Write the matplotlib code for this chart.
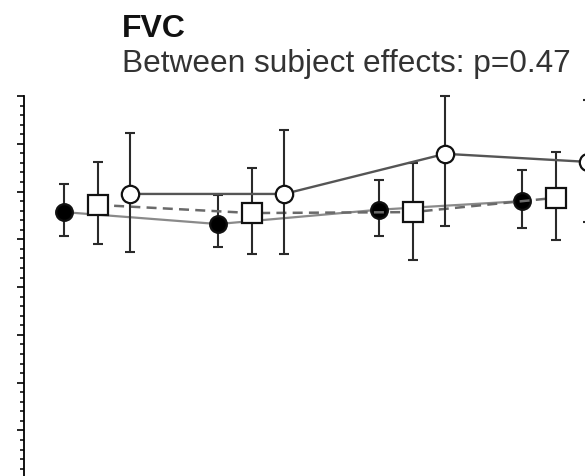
import numpy as np
import matplotlib
matplotlib.use("Agg")
import matplotlib.pyplot as plt
from matplotlib.ticker import MultipleLocator

plt.rcParams['font.family'] = ['Liberation Sans', 'DejaVu Sans']

# ---------------------------------------------------------------------------
# Data (y units arbitrary, tick labels are cropped)
# ---------------------------------------------------------------------------
visits = [0.0, 1.0, 2.045, 2.975]          # visit positions
offsets = [0.0, 0.22, 0.43]                 # horizontal dodge per group

filled_mean = [105.7, 103.2, 106.2, 108.0]
filled_lo   = [100.7, 98.4, 100.7, 102.4]
filled_hi   = [111.6, 109.3, 112.4, 114.5]

square_mean = [107.2, 105.5, 105.7, 108.7]
square_lo   = [99.0, 97.0, 95.7, 99.9]
square_hi   = [116.2, 114.9, 116.0, 118.3]

open_mean = [109.5, 109.5, 117.9, 116.2]
open_lo   = [97.4, 97.0, 102.8, 103.6]
open_hi   = [122.3, 122.9, 130.0, 129.2]

title = "FVC"
subtitle = "Between subject effects: p=0.47"

# ---------------------------------------------------------------------------
# Figure: axes deliberately larger than the canvas (crop of a bigger chart)
# ---------------------------------------------------------------------------
W, H = 585, 476
fig = plt.figure(figsize=(W / 100, H / 100), dpi=100)
fig.patch.set_facecolor("white")

px_per_unit_x = 154.0
x0_px = 64.0
left_px, right_px = 24.0, 720.0
top_px, bottom_px = 96.0, 526.0
ax = fig.add_axes([left_px / W, 1 - bottom_px / H,
                   (right_px - left_px) / W, (bottom_px - top_px) / H])
ax.set_xlim((left_px - x0_px) / px_per_unit_x, (right_px - x0_px) / px_per_unit_x)
ax.set_ylim(40, 130)


def draw(xs, mean, lo, hi, marker, face, ms, line_color, ls, lw, z):
    mean = np.array(mean)
    err = [mean - np.array(lo), np.array(hi) - mean]
    ax.plot(xs, mean, color=line_color, ls=ls, lw=lw, zorder=z,
            dashes=(4, 2.5) if ls == "--" else (None, None))
    ax.errorbar(xs, mean, yerr=err, fmt="none", ecolor="#2a2a2a",
                elinewidth=1.5, capsize=3.8, capthick=1.5, zorder=z + 1,
                clip_on=False)
    ax.plot(xs, mean, ls="none", marker=marker, ms=ms, mfc=face,
            mec="#111111", mew=1.6, zorder=z + 2, clip_on=False)


xv = np.array(visits)
draw(xv + offsets[0], filled_mean, filled_lo, filled_hi, "o", "black", 12,
     "#8a8a8a", "-", 1.6, 2)
draw(xv + offsets[1], square_mean, square_lo, square_hi, "s", "white", 14.5,
     "#6a6a6a", "--", 1.8, 5)
draw(xv + offsets[2], open_mean, open_lo, open_hi, "o", "white", 12.5,
     "#555555", "-", 1.7, 8)

# axis styling
for side in ["top", "right", "bottom"]:
    ax.spines[side].set_visible(False)
ax.spines["left"].set_linewidth(1.3)
ax.yaxis.set_major_locator(MultipleLocator(10))
ax.yaxis.set_minor_locator(MultipleLocator(2))
ax.tick_params(axis="y", which="major", length=5, width=1.2, labelleft=False)
ax.tick_params(axis="y", which="minor", length=2.8, width=1.1)
ax.set_xticks([])

fig.text(122 / W, 1 - 37 / H, title, fontsize=23, fontweight="bold",
         ha="left", va="baseline", color="#111111")
fig.text(122 / W, 1 - 72 / H, subtitle, fontsize=22.8, ha="left",
         va="baseline", color="#333333")

fig.savefig("out.png", dpi=100, facecolor=fig.get_facecolor())
